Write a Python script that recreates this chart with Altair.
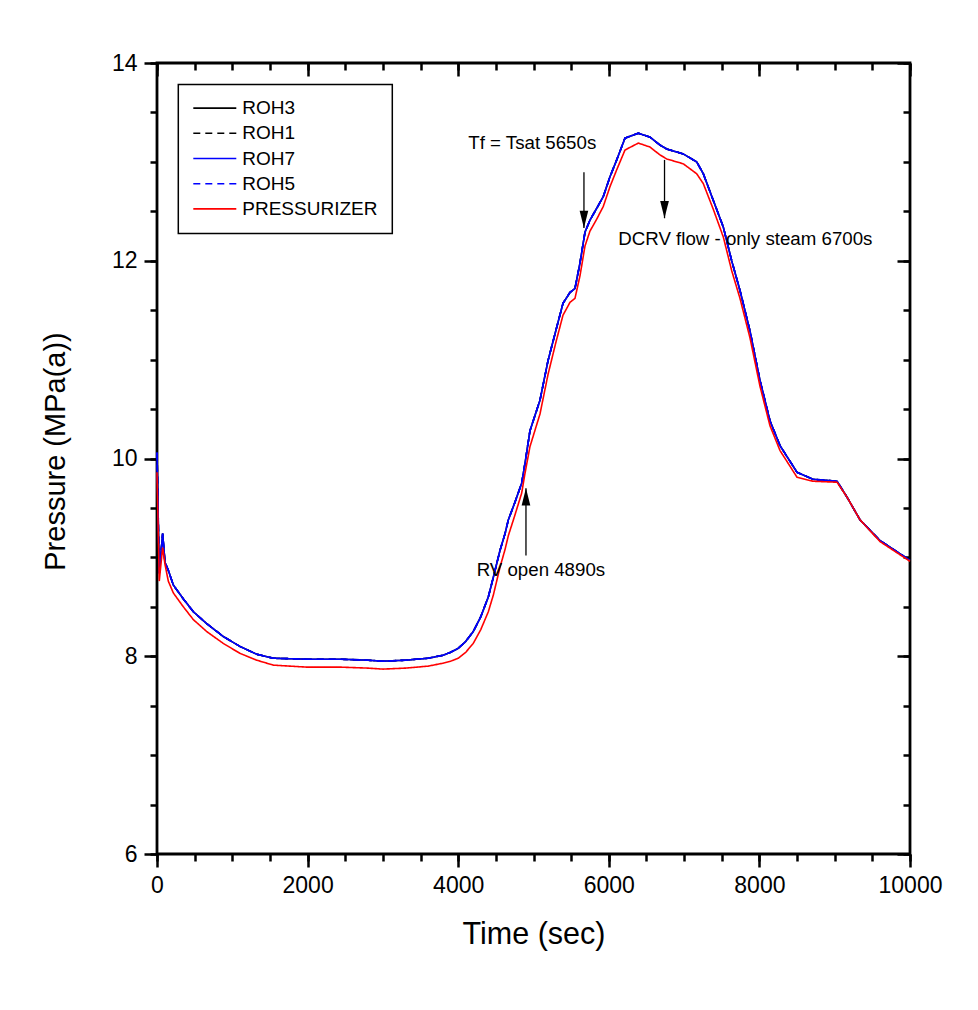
import altair as alt
import pandas as pd

# ---------------- data ----------------
time_s = [0, 30, 75, 106, 150, 217, 350, 483, 660, 880, 1100, 1325, 1545, 1990,
          2430, 2800, 3000, 3300, 3600, 3800, 3900, 4000, 4100, 4200, 4300, 4400,
          4467, 4555, 4622, 4666, 4750, 4843, 4887, 4953, 5086, 5193, 5299, 5392,
          5485, 5551, 5618, 5684, 5750, 5839, 5927, 6016, 6105, 6215, 6392, 6547,
          6680, 6769, 6990, 7167, 7255, 7388, 7521, 7632, 7742, 7875, 8008, 8141,
          8274, 8500, 8712, 9031, 9163, 9336, 9602, 10000]

roh_p = [10.06, 8.84, 9.24, 8.95, 8.87, 8.72, 8.58, 8.45, 8.33, 8.20, 8.10, 8.02, 7.98, 7.97,
         7.97, 7.96, 7.95, 7.96, 7.98, 8.01, 8.04, 8.08, 8.15, 8.25, 8.40, 8.60,
         8.80, 9.07, 9.24, 9.38, 9.55, 9.75, 9.95, 10.28, 10.59, 10.99, 11.30, 11.57,
         11.68, 11.72, 11.98, 12.29, 12.41, 12.53, 12.65, 12.85, 13.02, 13.24, 13.29, 13.25,
         13.17, 13.13, 13.08, 13.00, 12.88, 12.61, 12.34, 12.00, 11.70, 11.29, 10.79, 10.38,
         10.13, 9.86, 9.79, 9.77, 9.61, 9.38, 9.17, 8.97]

pzr_p = [9.86, 8.76, 9.10, 8.93, 8.76, 8.64, 8.50, 8.37, 8.25, 8.13, 8.03, 7.96, 7.91, 7.89,
         7.89, 7.88, 7.87, 7.88, 7.90, 7.93, 7.95, 7.98, 8.04, 8.13, 8.27, 8.45,
         8.62, 8.90, 9.08, 9.22, 9.42, 9.65, 9.85, 10.12, 10.45, 10.85, 11.18, 11.45,
         11.58, 11.62, 11.85, 12.15, 12.30, 12.42, 12.55, 12.75, 12.92, 13.12, 13.19, 13.15,
         13.07, 13.03, 12.98, 12.88, 12.78, 12.52, 12.24, 11.90, 11.62, 11.22, 10.73, 10.33,
         10.08, 9.81, 9.77, 9.76, 9.61, 9.38, 9.16, 8.96]

series = ["ROH3", "ROH1", "ROH7", "ROH5", "PRESSURIZER"]
series_colors = ["#000000", "#000000", "#0000ff", "#0000ff", "#ff0000"]
series_dash = [[1, 0], [7, 5], [1, 0], [7, 5], [1, 0]]
series_width = [1.6, 1.6, 1.8, 1.8, 1.1]

note_text = ["Tf = Tsat 5650s", "DCRV flow - only steam 6700s", "RV open 4890s"]
note_t = [4134, 6126, 4245]
note_p = [13.134, 12.157, 8.81]

arrow_t = [5670, 6740, 4900]
arrow_tail = [12.895, 13.02, 9.02]
arrow_tip = [12.33, 12.43, 9.70]
arrow_dir = ["down", "down", "up"]

x_major = [0, 2000, 4000, 6000, 8000, 10000]
x_minor = list(range(0, 10001, 500))
y_major = [6, 8, 10, 12, 14]
y_minor = [6 + 0.5 * i for i in range(17)]

FONT = "Liberation Sans"

rows = []
for s in series:
    vals = pzr_p if s == "PRESSURIZER" else roh_p
    for t, p in zip(time_s, vals):
        rows.append({"series": s, "t": t, "p": p})
df = pd.DataFrame(rows)

notes = pd.DataFrame({"text": note_text, "t": note_t, "p": note_p})
arrows = pd.DataFrame({"t": arrow_t, "tail": arrow_tail, "tip": arrow_tip, "dir": arrow_dir})

xs = alt.Scale(domain=[0, 10000], nice=False, zero=False)
ys = alt.Scale(domain=[6, 14], nice=False, zero=False)

AX = dict(domain=False, grid=False, tickColor="black", tickWidth=2.5)

legend = alt.Legend(
    orient="none", legendX=21.3, legendY=21.6, title=None,
    symbolType="stroke", symbolSize=1849, symbolStrokeWidth=1.3,
    labelFont=FONT, labelFontSize=19, labelColor="black", labelOffset=5,
    strokeColor="black", fillColor="white", padding=14, rowPadding=5.2,
    clipHeight=19,
)

lines = alt.Chart(df).mark_line().encode(
    x=alt.X("t:Q", scale=xs, axis=alt.Axis(
        orient="bottom", values=x_major, format="d", tickSize=13, labelFont=FONT,
        labelFontSize=23, labelColor="black", labelPadding=7, labelBaseline="top",
        labelFlush=False,
        title="Time (sec)", titleFont=FONT, titleFontSize=30.5, titleFontWeight="normal",
        titleColor="black", titleY=89, titleBaseline="alphabetic", **AX)),
    y=alt.Y("p:Q", scale=ys, axis=alt.Axis(
        orient="left", values=y_major, format="d", tickSize=13, labelFont=FONT,
        labelFontSize=23, labelColor="black", labelPadding=7, labelFlush=False,
        title="Pressure (MPa(a))", titleFont=FONT, titleFontSize=29, titleFontWeight="normal",
        titleColor="black", titleX=-93, titleY=388, titleAngle=270,
        titleBaseline="alphabetic", titleAlign="center", **AX)),
    color=alt.Color("series:N", scale=alt.Scale(domain=series, range=series_colors),
                    sort=series, legend=legend),
    strokeDash=alt.StrokeDash("series:N", scale=alt.Scale(domain=series, range=series_dash),
                              sort=series, legend=legend),
    strokeWidth=alt.StrokeWidth("series:N", scale=alt.Scale(domain=series, range=series_width),
                                legend=None),
    detail="series:N",
)


def tick_layer(x_orient, x_vals, x_size, x_off, y_orient, y_vals, y_size, y_off):
    return alt.Chart(df).mark_line(opacity=0).encode(
        x=alt.X("t:Q", scale=xs, axis=alt.Axis(orient=x_orient, values=x_vals, tickSize=x_size,
                                               offset=x_off, labels=False, title=None, **AX)),
        y=alt.Y("p:Q", scale=ys, axis=alt.Axis(orient=y_orient, values=y_vals, tickSize=y_size,
                                               offset=y_off, labels=False, title=None, **AX)),
        detail="series:N",
    )


minor_bl = tick_layer("bottom", x_minor, 7, 0, "left", y_minor, 7, 0)
major_tr = tick_layer("top", x_major, 13, -13, "right", y_major, 13, -13)
minor_tr = tick_layer("top", x_minor, 7, -7, "right", y_minor, 7, -7)

note_layer = alt.Chart(notes).mark_text(
    align="left", baseline="alphabetic", font=FONT, fontSize=18.7, color="black"
).encode(
    x=alt.X("t:Q", scale=xs, axis=None),
    y=alt.Y("p:Q", scale=ys, axis=None),
    text="text:N",
)

shaft = alt.Chart(arrows).mark_rule(color="black", strokeWidth=1.3).encode(
    x=alt.X("t:Q", scale=xs, axis=None),
    y=alt.Y("tail:Q", scale=ys, axis=None),
    y2="tip:Q",
)

head_down = alt.Chart(arrows).transform_filter(alt.datum.dir == "down").mark_point(
    shape="M0,0 L-0.5,-2 L0.5,-2 Z", size=300, filled=True, color="black", opacity=1
).encode(
    x=alt.X("t:Q", scale=xs, axis=None),
    y=alt.Y("tip:Q", scale=ys, axis=None),
)

head_up = alt.Chart(arrows).transform_filter(alt.datum.dir == "up").mark_point(
    shape="M0,0 L-0.5,2 L0.5,2 Z", size=300, filled=True, color="black", opacity=1
).encode(
    x=alt.X("t:Q", scale=xs, axis=None),
    y=alt.Y("tip:Q", scale=ys, axis=None),
)

chart = alt.layer(
    minor_bl, major_tr, minor_tr, lines, note_layer, shaft, head_down, head_up
).resolve_axis(x="independent", y="independent").properties(
    width=753, height=791,
    autosize=alt.AutoSizeParams(type="none"),
    padding={"left": 149, "top": 55, "right": 60, "bottom": 140},
).configure(
    font=FONT, background="white"
).configure_view(
    stroke="black", strokeWidth=2.8
).configure_legend(
    strokeWidth=1.5
)

chart.save("out.html", embed_options={"renderer": "svg", "actions": False})
